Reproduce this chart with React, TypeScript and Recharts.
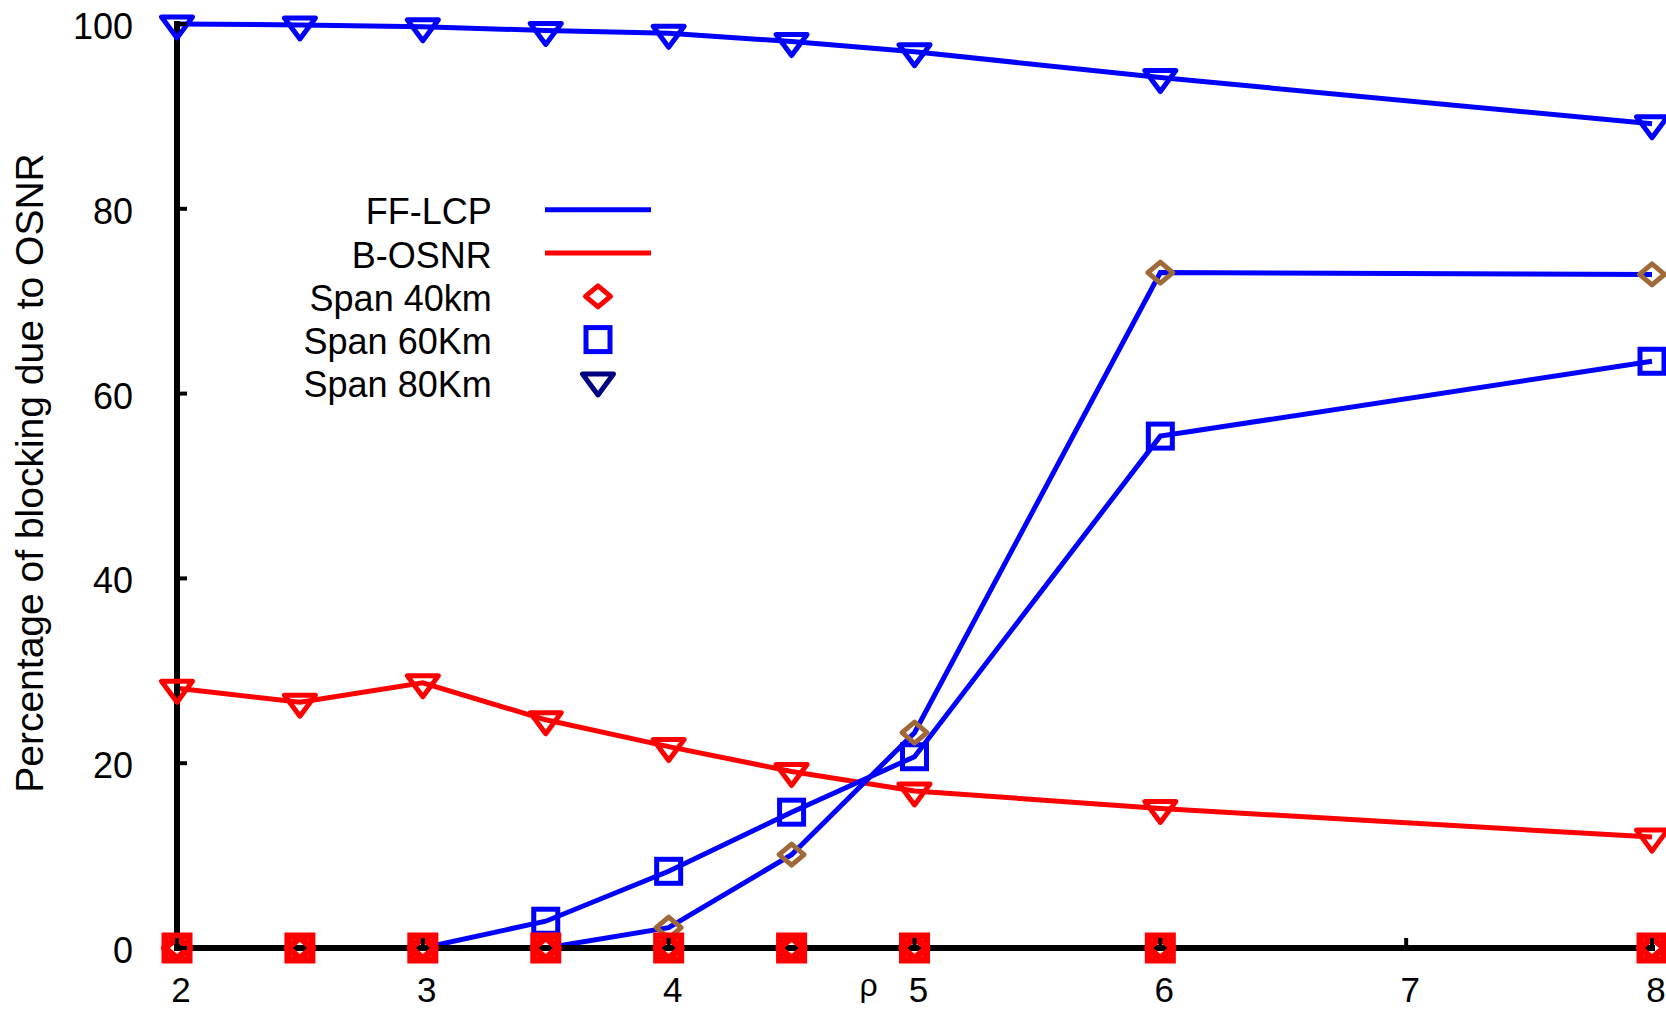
import { Legend, Line, LineChart, XAxis, YAxis } from 'recharts'

// load factor on the x axis
const rho = [2, 2.5, 3, 3.5, 4, 4.5, 5, 6, 8]

// percentage of blocking caused by OSNR, per algorithm and span length
const ffLcpSpan80 = [100, 99.9, 99.7, 99.3, 99.0, 98.1, 97.0, 94.2, 89.2]
const ffLcpSpan60 = [0, 0, 0, 2.9, 8.3, 14.7, 20.7, 55.4, 63.5]
const ffLcpSpan40 = [0, 0, 0, 0, 2.2, 10.1, 23.3, 73.1, 72.9]
const bOsnrSpan80 = [28.1, 26.6, 28.7, 24.7, 21.8, 19.1, 17.0, 15.1, 12.0]
const bOsnrSpan60 = [0, 0, 0, 0, 0, 0, 0, 0, 0]
const bOsnrSpan40 = [0, 0, 0, 0, 0, 0, 0, 0, 0]

const xTicks = [2, 3, 4, 5, 6, 7, 8]
const yTicks = [0, 20, 40, 60, 80, 100]

const BLUE = '#0000ff'
const RED = '#ff0000'
const BROWN = '#a0693a'
const NAVY = '#000080'
const FONT = '"Liberation Sans", Arial, Helvetica, sans-serif'

const rows = rho.map((r, i) => ({
    rho: r,
    ffLcpSpan80: ffLcpSpan80[i],
    ffLcpSpan60: ffLcpSpan60[i],
    ffLcpSpan40: ffLcpSpan40[i],
    bOsnrSpan80: bOsnrSpan80[i],
    bOsnrSpan60: bOsnrSpan60[i],
    bOsnrSpan40: bOsnrSpan40[i],
}))

type MarkerProps = { cx: number; cy: number; color: string; width?: number }

const TriangleDown = ({ cx, cy, color, width = 5 }: MarkerProps) => (
    <path
        d={`M${cx - 15.5},${cy - 7}L${cx + 15.5},${cy - 7}L${cx},${cy + 14}Z`}
        fill="none"
        stroke={color}
        strokeWidth={width}
        strokeLinejoin="round"
    />
)

const Square = ({ cx, cy, color, width = 5 }: MarkerProps) => (
    <rect x={cx - 12} y={cy - 12} width={24} height={24} fill="none" stroke={color} strokeWidth={width} />
)

const Diamond = ({ cx, cy, color, width = 5 }: MarkerProps) => (
    <path
        d={`M${cx - 12.5},${cy}L${cx},${cy - 10.5}L${cx + 12.5},${cy}L${cx},${cy + 10.5}Z`}
        fill="none"
        stroke={color}
        strokeWidth={width}
        strokeLinejoin="round"
    />
)

const markerDot = (Shape: (p: MarkerProps) => any, color: string, width = 5) => (p: any) => (
    <Shape key={`${color}-${p.index}`} cx={p.cx} cy={p.cy} color={color} width={width} />
)

// ticks point into the plot, gnuplot style
const LeftTick = ({ x, y, payload }: any) => (
    <g>
        <line x1={x} x2={x + 10} y1={y} y2={y} stroke="#000" strokeWidth={4} />
        <text x={x - 44} y={y + 15} textAnchor="end" fontSize={36} fill="#000">
            {payload.value}
        </text>
    </g>
)

const RightTick = ({ x, y }: any) => (
    <line x1={x} x2={x - 10} y1={y} y2={y} stroke="#000" strokeWidth={4} />
)

const BottomTick = ({ x, y, payload }: any) => (
    <g>
        <line x1={x} x2={x} y1={y} y2={y - 10} stroke="#000" strokeWidth={4} />
        <text x={x + 4} y={y + 54} textAnchor="middle" fontSize={35} fill="#000">
            {payload.value}
        </text>
    </g>
)

const TopTick = ({ x, y }: any) => (
    <line x1={x} x2={x} y1={y} y2={y + 10} stroke="#000" strokeWidth={4} />
)

const legendRows = [
    { label: 'FF-LCP', kind: 'line', color: BLUE },
    { label: 'B-OSNR', kind: 'line', color: RED },
    { label: 'Span 40km', kind: 'diamond', color: RED },
    { label: 'Span 60Km', kind: 'square', color: BLUE },
    { label: 'Span 80Km', kind: 'triangle', color: NAVY },
]

const LegendBox = () => (
    <svg width={400} height={230} style={{ fontFamily: FONT }}>
        {legendRows.map((row, i) => {
            const cy = 31.7 + i * 43.3
            return (
                <g key={row.label}>
                    <text x={221.7} y={cy + 12.5} textAnchor="end" fontSize={36} fill="#000">
                        {row.label}
                    </text>
                    {row.kind === 'line' && (
                        <line x1={275} x2={381} y1={cy - 2} y2={cy - 2} stroke={row.color} strokeWidth={5} />
                    )}
                    {row.kind === 'diamond' && <Diamond cx={328} cy={cy - 2} color={row.color} />}
                    {row.kind === 'square' && <Square cx={328} cy={cy - 2} color={row.color} />}
                    {row.kind === 'triangle' && <TriangleDown cx={328} cy={cy - 4} color={row.color} />}
                </g>
            )
        })}
    </svg>
)

const border = { stroke: '#000', strokeWidth: 6, strokeLinecap: 'square' as const }

export default function App() {
    return (
        <div style={{ position: 'absolute', left: 0, top: 0, fontFamily: FONT, background: '#fff' }}>
            <LineChart
                width={1666}
                height={1010}
                data={rows}
                margin={{ top: 24, right: 14, bottom: 0, left: 0 }}
            >
                <Line
                    type="linear"
                    dataKey="bOsnrSpan80"
                    stroke={RED}
                    strokeWidth={5}
                    dot={markerDot(TriangleDown, RED)}
                    activeDot={false}
                    isAnimationActive={false}
                />
                <Line
                    type="linear"
                    dataKey="ffLcpSpan80"
                    stroke={BLUE}
                    strokeWidth={5}
                    dot={markerDot(TriangleDown, BLUE)}
                    activeDot={false}
                    isAnimationActive={false}
                />
                <Line
                    type="linear"
                    dataKey="ffLcpSpan60"
                    stroke={BLUE}
                    strokeWidth={5}
                    dot={markerDot(Square, BLUE)}
                    activeDot={false}
                    isAnimationActive={false}
                />
                <Line
                    type="linear"
                    dataKey="ffLcpSpan40"
                    stroke={BLUE}
                    strokeWidth={5}
                    dot={markerDot(Diamond, BROWN)}
                    activeDot={false}
                    isAnimationActive={false}
                />
                {/* the two B-OSNR runs for short spans never block; their markers pile up on the axis */}
                <Line
                    type="linear"
                    dataKey="bOsnrSpan60"
                    stroke={RED}
                    strokeWidth={5}
                    dot={markerDot(Square, RED, 7)}
                    activeDot={false}
                    isAnimationActive={false}
                />
                <Line
                    type="linear"
                    dataKey="bOsnrSpan40"
                    stroke={RED}
                    strokeWidth={5}
                    dot={markerDot(Diamond, RED, 7)}
                    activeDot={false}
                    isAnimationActive={false}
                />

                <XAxis
                    dataKey="rho"
                    type="number"
                    domain={[2, 8]}
                    ticks={xTicks}
                    interval={0}
                    height={62}
                    tickSize={0}
                    tickMargin={0}
                    tickLine={false}
                    axisLine={border}
                    tick={<BottomTick />}
                    label={{ value: 'ρ', position: 'center', dx: -46, dy: 6, fontSize: 32, fill: '#000' }}
                />
                <XAxis
                    xAxisId="top"
                    orientation="top"
                    type="number"
                    domain={[2, 8]}
                    allowDataOverflow
                    ticks={xTicks}
                    interval={0}
                    height={0}
                    tickSize={0}
                    tickMargin={0}
                    tickLine={false}
                    axisLine={border}
                    tick={<TopTick />}
                />
                <YAxis
                    type="number"
                    domain={[0, 100]}
                    ticks={yTicks}
                    interval={0}
                    width={177}
                    tickSize={0}
                    tickMargin={0}
                    tickLine={false}
                    axisLine={border}
                    tick={<LeftTick />}
                    label={{
                        value: 'Percentage of blocking due to OSNR',
                        angle: -90,
                        position: 'center',
                        dx: -59,
                        dy: -13,
                        fontSize: 39,
                        fill: '#000',
                    }}
                />
                <YAxis
                    yAxisId="right"
                    orientation="right"
                    type="number"
                    domain={[0, 100]}
                    allowDataOverflow
                    ticks={yTicks}
                    interval={0}
                    width={0}
                    tickSize={0}
                    tickMargin={0}
                    tickLine={false}
                    axisLine={border}
                    tick={<RightTick />}
                />

                <Legend
                    layout="vertical"
                    align="center"
                    verticalAlign="middle"
                    wrapperStyle={{ position: 'absolute', left: 270, top: 180, width: 400, height: 230 }}
                    content={() => <LegendBox />}
                />
            </LineChart>
        </div>
    )
}
